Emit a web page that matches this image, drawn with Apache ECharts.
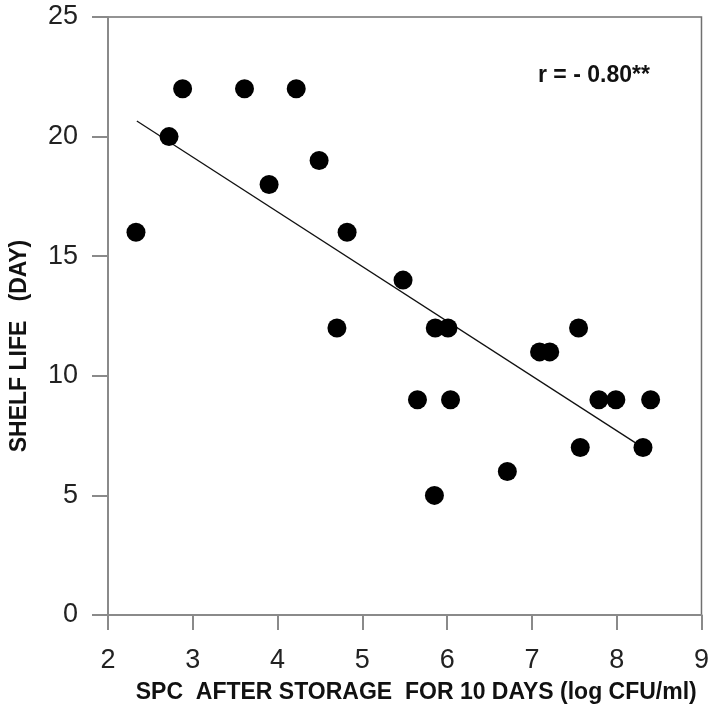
<!DOCTYPE html>
<html>
<head>
<meta charset="utf-8">
<script src="https://cdn.jsdelivr.net/npm/echarts@6/dist/echarts.min.js"></script>
<style>html,body{margin:0;padding:0;background:#fff;}#c{width:712px;height:711px;}</style>
</head>
<body>
<div id="c"></div>
<script>
// SPC after storage for 10 days (log CFU/ml)
var spc = [2.33, 2.72, 2.88, 3.61, 4.22, 3.90, 4.49, 4.82, 4.70, 5.48, 5.65, 5.86, 6.01, 6.04, 5.85, 6.71, 7.09, 7.21, 7.55, 7.57, 7.79, 7.99, 8.40, 8.31];
// Shelf life (day)
var shelfLife = [16, 20, 22, 22, 22, 18, 19, 16, 12, 14, 9, 12, 12, 9, 5, 6, 11, 11, 12, 7, 9, 9, 9, 7];
// Regression line end points
var fitX = [2.34, 8.30];
var fitY = [20.65, 7.02];
var xTicks = [2, 3, 4, 5, 6, 7, 8, 9];
var yTicks = [0, 5, 10, 15, 20, 25];
var rLabel = 'r = - 0.80**';

var pts = spc.map(function (x, i) { return [x, shelfLife[i]]; });
var fit = fitX.map(function (x, i) { return [x, fitY[i]]; });

var chart = echarts.init(document.getElementById('c'));
var axisCol = '#8a8a8a';
var ff = 'Liberation Sans, Arial, sans-serif';
chart.setOption({
  backgroundColor: '#fff',
  animation: false,
  textStyle: { fontFamily: ff },
  grid: { left: 107, top: 17, right: 9, bottom: 96, show: true, borderColor: '#707070', borderWidth: 1.5, backgroundColor: 'transparent' },
  xAxis: {
    type: 'value', min: xTicks[0], max: xTicks[xTicks.length - 1], interval: 1,
    splitLine: { show: false },
    axisLine: { show: true, lineStyle: { color: axisCol, width: 2 } },
    axisTick: { show: true, inside: false, length: 15, lineStyle: { color: axisCol, width: 2 } },
    axisLabel: { color: '#222', fontSize: 27, margin: 32, fontFamily: ff },
    name: 'SPC  AFTER STORAGE  FOR 10 DAYS (log CFU/ml)',
    nameLocation: 'middle', nameGap: 66,
    nameTextStyle: { color: '#111', fontSize: 23, fontWeight: 'bold', padding: [0, 0, 0, 23], fontFamily: ff }
  },
  yAxis: {
    type: 'value', min: yTicks[0], max: yTicks[yTicks.length - 1], interval: 5,
    splitLine: { show: false },
    axisLine: { show: true, lineStyle: { color: axisCol, width: 2 } },
    axisTick: { show: true, inside: false, length: 16, lineStyle: { color: axisCol, width: 2 } },
    axisLabel: { color: '#222', fontSize: 27, margin: 30, fontFamily: ff },
    name: 'SHELF LIFE   (DAY)',
    nameLocation: 'middle', nameGap: 77,
    nameTextStyle: { color: '#111', fontSize: 23, fontWeight: 'bold', padding: [0, 60, 0, 0], fontFamily: ff }
  },
  series: [
    {
      type: 'line', data: fit, symbol: 'none', silent: true,
      lineStyle: { color: '#111', width: 1.3 }, z: 2
    },
    {
      type: 'scatter', data: pts, symbol: 'circle', symbolSize: 19,
      itemStyle: { color: '#000', opacity: 1 }, z: 3
    }
  ],
  graphic: [
    {
      type: 'text', left: 538, top: 64,
      style: { text: rLabel, fill: '#111', fontSize: 23, fontWeight: 'bold', fontFamily: ff }
    }
  ]
});
</script>
</body>
</html>
